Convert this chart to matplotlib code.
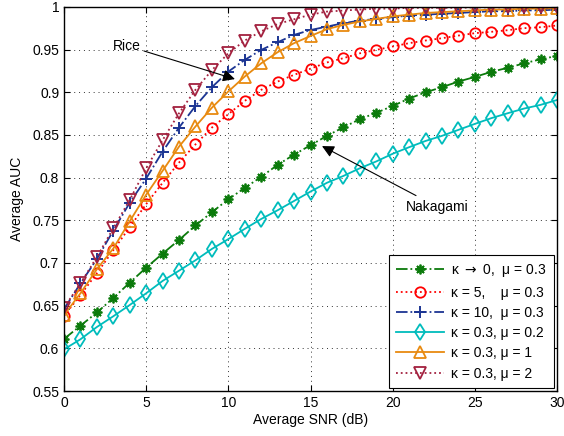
import matplotlib
matplotlib.use("Agg")
import matplotlib.pyplot as plt
from matplotlib.ticker import FuncFormatter

plt.rcParams['font.family'] = ['Liberation Sans', 'DejaVu Sans']

snr = list(range(0, 31))

auc_k0 = [0.611, 0.6265, 0.642, 0.659, 0.677, 0.6945, 0.711, 0.727, 0.744, 0.7595, 0.7747,
          0.788, 0.801, 0.815, 0.827, 0.838, 0.849, 0.859, 0.8685, 0.876, 0.884, 0.8927,
          0.900, 0.906, 0.9126, 0.918, 0.924, 0.9287, 0.934, 0.9387, 0.9427]
auc_k5 = [0.638, 0.6625, 0.688, 0.715, 0.742, 0.769, 0.794, 0.8177, 0.839, 0.8587, 0.8744,
          0.89, 0.9029, 0.9126, 0.9205, 0.9277, 0.935, 0.94, 0.9457, 0.9497, 0.9537, 0.9576,
          0.9607, 0.9634, 0.9665, 0.9693, 0.9709, 0.9728, 0.9752, 0.9763, 0.9783]
auc_k10 = [0.646, 0.676, 0.7047, 0.738, 0.7707, 0.799, 0.8306, 0.8587, 0.884, 0.906, 0.9243,
           0.938, 0.9497, 0.9587, 0.9673, 0.973, 0.977, 0.981, 0.984, 0.986, 0.988, 0.990,
           0.991, 0.992, 0.993, 0.994, 0.995, 0.995, 0.996, 0.996, 0.997]
auc_mu02 = [0.5988, 0.6106, 0.625, 0.6376, 0.6508, 0.6645, 0.679, 0.691, 0.7032, 0.7165, 0.728,
            0.740, 0.7516, 0.7618, 0.7727, 0.7837, 0.794, 0.802, 0.811, 0.819, 0.828, 0.8357,
            0.843, 0.849, 0.856, 0.863, 0.8697, 0.8755, 0.881, 0.8853, 0.891]
auc_mu1 = [0.639, 0.6645, 0.6927, 0.717, 0.749, 0.780, 0.808, 0.8364, 0.860, 0.882, 0.901,
           0.9185, 0.934, 0.947, 0.9576, 0.966, 0.974, 0.979, 0.983, 0.986, 0.989, 0.991,
           0.993, 0.994, 0.995, 0.996, 0.997, 0.997, 0.998, 0.998, 0.9986]
auc_mu2 = [0.6477, 0.676, 0.707, 0.7407, 0.774, 0.811, 0.844, 0.8755, 0.903, 0.926, 0.9457,
           0.9607, 0.9715, 0.980, 0.9856, 0.991, 0.9946, 0.9958, 0.997, 0.998, 0.998, 0.999,
           0.999, 0.999, 0.999, 0.9995, 0.9995, 0.9995, 0.9995, 0.9995, 0.9995]

labels = ['κ $\\rightarrow$ 0,  μ = 0.3', 'κ = 5,    μ = 0.3', 'κ = 10,  μ = 0.3',
          'κ = 0.3, μ = 0.2', 'κ = 0.3, μ = 1', 'κ = 0.3, μ = 2']

fig = plt.figure(figsize=(5.64, 4.36), dpi=100)
ax = fig.add_axes([0.1135, 0.1032, 0.8741, 0.8808])

lw = 1.3
ax.plot(snr, auc_k0, linestyle='-.', color='#0b7a0b', marker=(8, 2, 0), markersize=7,
        markeredgewidth=1.3, linewidth=lw, label=labels[0])
ax.plot(snr, auc_k5, linestyle=':', color='#ff0000', marker='o', markersize=7.5,
        markerfacecolor='none', markeredgewidth=1.3, linewidth=lw, label=labels[1])
ax.plot(snr, auc_k10, linestyle='-.', color='#1c3593', marker='+', markersize=9,
        markeredgewidth=1.4, linewidth=lw, label=labels[2])
ax.plot(snr, auc_mu02, linestyle='-', color='#00bcbc', marker='d', markersize=8,
        markerfacecolor='none', markeredgewidth=1.3, linewidth=lw, label=labels[3])
ax.plot(snr, auc_mu1, linestyle='-', color='#e88a10', marker='^', markersize=8.5,
        markerfacecolor='none', markeredgewidth=1.3, linewidth=lw, label=labels[4])
ax.plot(snr, auc_mu2, linestyle=':', color='#a3213f', marker='v', markersize=8.5,
        markerfacecolor='none', markeredgewidth=1.3, linewidth=lw, label=labels[5])

ax.set_xlim(0, 30)
ax.set_ylim(0.55, 1.0)
ax.set_xticks(range(0, 31, 5))
ax.set_yticks([0.55, 0.6, 0.65, 0.7, 0.75, 0.8, 0.85, 0.9, 0.95, 1.0])
ax.yaxis.set_major_formatter(FuncFormatter(lambda v, p: ('%g' % round(v, 2))))
ax.tick_params(direction='in', top=True, right=True, labelsize=10, length=4, width=0.8)
ax.grid(True, linestyle=(0, (1, 4)), color='#333333', linewidth=0.7)
for s in ax.spines.values():
    s.set_linewidth(1.0)

ax.set_xlabel('Average SNR (dB)', fontsize=10, labelpad=2)
ax.set_ylabel('Average AUC', fontsize=10, labelpad=6)

ax.annotate('Rice', xy=(10.4, 0.9155), xytext=(3.0, 0.9545), fontsize=10,
            ha='left', va='center',
            arrowprops=dict(arrowstyle='-|>', color='black', lw=0.8,
                            mutation_scale=18, shrinkA=0, shrinkB=0))
ax.annotate('Nakagami', xy=(15.7, 0.837), xytext=(22.7, 0.766), fontsize=10,
            ha='center', va='center',
            arrowprops=dict(arrowstyle='-|>', color='black', lw=0.8,
                            mutation_scale=18, shrinkA=2, shrinkB=0))

leg = ax.legend(loc='lower right', fontsize=10, handlelength=3.5, handletextpad=0.5,
                borderaxespad=0.25, labelspacing=0.45, fancybox=False, framealpha=1,
                edgecolor='black', borderpad=0.5)
leg.get_frame().set_linewidth(0.8)

fig.savefig('out.png', dpi=100)
